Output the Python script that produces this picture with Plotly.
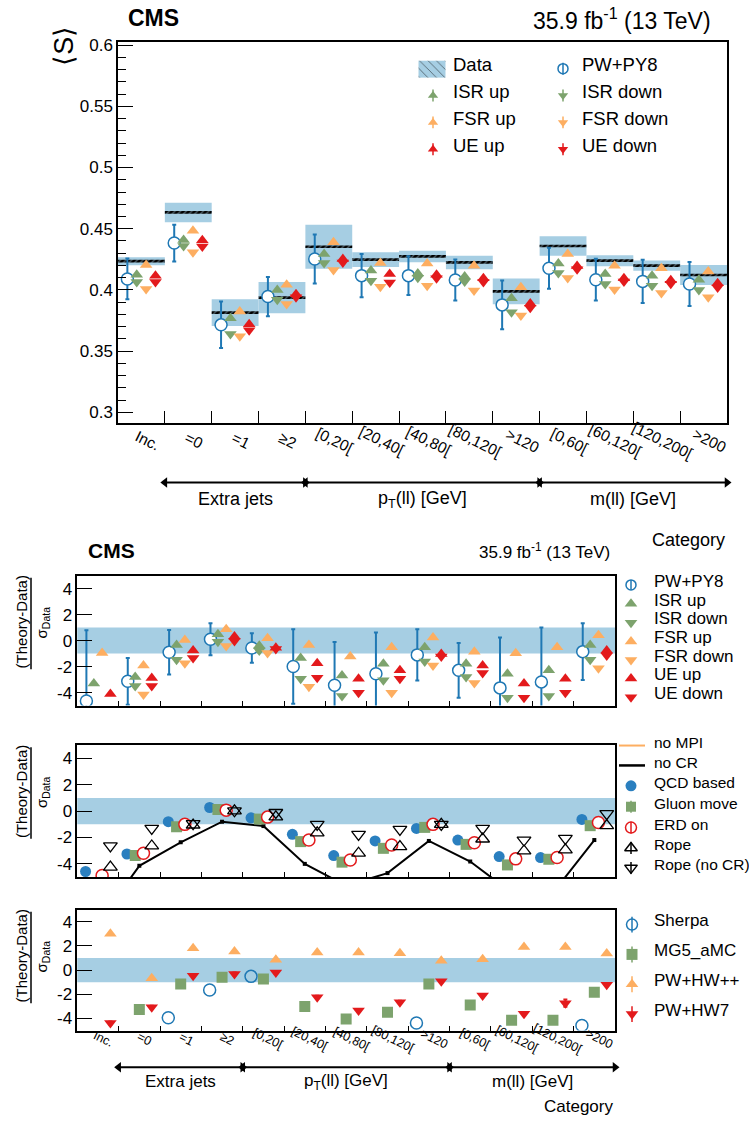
import plotly.graph_objects as go

W, H = 749, 1127

# ---------------- data ----------------
categories = ["Inc.", "=0", "=1", "≥2", "[0,20[", "[20,40[", "[40,80[", "[80,120[", ">120",
              "[0,60[", "[60,120[", "[120,200[", ">200"]
group_labels = ["Extra jets", "p<sub>T</sub>(ll) [GeV]", "m(ll) [GeV]"]
group_start = [1, 4, 9]
group_end = [4, 9, 13]

S_ticks = [0.3, 0.35, 0.4, 0.45, 0.5, 0.55, 0.6]
S_ticktext = ["0.3", "0.35", "0.4", "0.45", "0.5", "0.55", "0.6"]
dev_ticks = [-4, -2, 0, 2, 4]
dev_ticktext = ["-4", "-2", "0", "2", "4"]

# top panel: <S>
data_S = [0.4235, 0.4633, 0.3815, 0.3937, 0.4353, 0.4247, 0.4274, 0.4225, 0.3989, 0.4359, 0.4239, 0.4198, 0.4122]
data_S_err = [0.0033, 0.0079, 0.0110, 0.0127, 0.0180, 0.0060, 0.0047, 0.0055, 0.0105, 0.0079, 0.0045, 0.0042, 0.0082]
pwpy8_S = [0.4090, 0.4383, 0.3715, 0.3946, 0.4253, 0.4117, 0.4117, 0.4081, 0.3878, 0.4177, 0.4084, 0.4070, 0.4049]
pwpy8_S_err = [0.0167, 0.0150, 0.0190, 0.0160, 0.0200, 0.0177, 0.0158, 0.0167, 0.0200, 0.0167, 0.0170, 0.0177, 0.0180]
isr_up_S = [0.4125, 0.4408, 0.3769, 0.4000, 0.4293, 0.4158, 0.4135, 0.4110, 0.3932, 0.4217, 0.4130, 0.4117, 0.4084]
isr_down_S = [0.4065, 0.4358, 0.3641, 0.3920, 0.4220, 0.4076, 0.4100, 0.4070, 0.3818, 0.4139, 0.4049, 0.4035, 0.4000]
fsr_up_S = [0.4204, 0.4484, 0.3823, 0.4043, 0.4389, 0.4220, 0.4217, 0.4198, 0.4022, 0.4293, 0.4198, 0.4177, 0.4150]
fsr_down_S = [0.4008, 0.4307, 0.3622, 0.3886, 0.4163, 0.4027, 0.4035, 0.3995, 0.3791, 0.4098, 0.4003, 0.3976, 0.3940]
ue_up_S = [0.4115, 0.4405, 0.3720, 0.3965, 0.4252, 0.4130, 0.4125, 0.4095, 0.3890, 0.4195, 0.4095, 0.4080, 0.4055]
ue_down_S = [0.4065, 0.4355, 0.3670, 0.3940, 0.4225, 0.4060, 0.4095, 0.4065, 0.3855, 0.4170, 0.4070, 0.4050, 0.4020]

# panel 2: (Theory-Data)/sigma, PW+PY8 variations
pwpy8_dev = [-4.65, -3.13, -0.90, 0.10, -0.57, -1.99, -3.44, -2.55, -1.10, -2.29, -3.64, -3.18, -0.85]
pwpy8_dev_err = [5.45, 1.80, 1.71, 1.23, 1.14, 2.87, 3.34, 3.17, 1.98, 2.10, 3.88, 4.18, 2.18]
isr_up_dev = [-3.31, -2.80, -0.34, 0.48, -0.39, -1.33, -2.68, -1.79, -0.52, -1.79, -2.55, -2.29, -0.34]
isr_down_dev = [-5.70, -3.49, -1.48, -0.08, -0.77, -2.93, -4.27, -3.06, -1.61, -2.80, -4.40, -4.27, -1.48]
fsr_up_dev = [-0.95, -1.91, 0.05, 0.88, 0.19, -0.34, -1.23, -0.52, 0.24, -0.85, -0.97, -0.52, 0.42]
fsr_down_dev = [-7.20, -4.15, -1.74, -0.41, -0.95, -3.56, -5.60, -4.02, -1.91, -3.26, -5.50, -5.90, -2.12]
ue_up_dev = [-4.12, -2.88, -0.77, 0.32, -0.55, -1.74, -2.93, -2.29, -1.03, -1.91, -3.31, -2.93, -0.77]
ue_down_dev = [-5.60, -3.49, -1.33, -0.03, -0.65, -2.85, -4.02, -2.93, -1.23, -2.50, -4.40, -4.02, -1.15]

# panel 3: colour reconnection / MPI models
nompi_dev = [-9.5, -8.7, -7.9, -7.2, -7.8, -8.9, -9.6, -9.3, -8.4, -8.8, -9.7, -9.9, -8.2]
nocr_dev = [-8.50, -4.15, -2.36, -0.80, -1.13, -4.00, -5.66, -4.70, -2.26, -3.82, -6.19, -6.20, -2.19]
qcd_dev = [-4.58, -3.25, -0.80, 0.28, -0.50, -1.76, -3.37, -2.26, -1.31, -2.19, -3.45, -3.52, -0.63]
gluon_dev = [-5.60, -3.37, -1.18, 0.13, -0.60, -2.31, -3.87, -2.82, -1.23, -2.52, -4.08, -3.65, -1.10]
erd_dev = [-4.88, -3.19, -1.00, 0.08, -0.45, -2.19, -3.70, -2.57, -1.00, -2.39, -3.62, -3.52, -0.86]
rope_dev = [-4.25, -2.64, -1.05, 0.03, -0.43, -1.64, -3.19, -2.69, -1.00, -2.11, -3.02, -2.94, -1.10]
rope_nocr_dev = [-2.64, -1.31, -0.95, 0.03, -0.10, -1.00, -1.76, -1.38, -1.00, -1.31, -2.19, -2.06, -0.18]

# panel 4: other generators
sherpa_dev = [-7.5, -6.0, -3.95, -1.64, -0.52, -6.5, -7.0, -6.2, -4.38, -5.8, -6.8, -6.4, -4.58]
mg5_dev = [-5.9, -3.26, -1.15, -0.60, -0.74, -3.01, -4.05, -3.48, -1.15, -2.88, -4.16, -4.16, -1.84]
hwpp_dev = [3.01, -0.68, 1.81, 1.53, 0.85, 1.45, 1.45, 1.40, 0.77, 0.90, 1.92, 1.92, 1.37]
hw7_dev = [-4.38, -3.07, -0.47, -0.33, -0.19, -2.25, -3.34, -2.66, -0.93, -2.11, -3.62, -2.74, -1.21]
hw7_dev_err = [0.12, 0.12, 0.12, 0.12, 0.12, 0.12, 0.12, 0.12, 0.12, 0.12, 0.12, 0.30, 0.12]

# ---------------- style ----------------
FONT = "Liberation Sans, Arial, Helvetica, sans-serif"
BLUE = "#1f78b4"
QCDBLUE = "#2a7fbf"
GREEN = "#7da36d"
ORANGE = "#fdae61"
RED = "#e31a1c"
BAND = "#a6cee3"

n = len(categories)
centers = [i + 0.5 for i in range(n)]


def xs(off):
    return [c + off for c in centers]


fig = go.Figure()

# ---------- top panel ----------
fig.add_trace(go.Bar(x=centers, base=[v - e for v, e in zip(data_S, data_S_err)],
                     y=[2 * e for e in data_S_err], width=1.0,
                     marker=dict(color=BAND, line=dict(width=0)),
                     xaxis="x", yaxis="y", showlegend=False, hoverinfo="skip"))
LH = 0.0022
fig.add_trace(go.Bar(x=centers, base=[v - LH / 2 for v in data_S], y=[LH] * n, width=1.0,
                     marker=dict(color="black", line=dict(width=0),
                                 pattern=dict(shape="/", bgcolor="black", fgcolor=BAND, size=4, solidity=0.3)),
                     xaxis="x", yaxis="y", showlegend=False, hoverinfo="skip"))


def pts(x, y, ax, sym, color, size=11, fill=None, lw=1.5, err=None, errcolor=None):
    mk = dict(symbol=sym, size=size, color=fill if fill else color, line=dict(color=color, width=lw if fill else 0))
    tr = go.Scatter(x=x, y=y, mode="markers", marker=mk, xaxis="x" + ax if ax else "x",
                    yaxis="y" + ax if ax else "y", showlegend=False, hoverinfo="skip")
    if err is not None:
        tr.error_y = dict(type="data", array=err, color=errcolor or color, thickness=2, width=2)
    return tr


# top
fig.add_trace(pts(xs(-0.3), pwpy8_S, "", "circle", BLUE, size=12, fill="white", err=pwpy8_S_err))
fig.add_trace(pts(xs(-0.1), isr_up_S, "", "triangle-up", GREEN, size=11))
fig.add_trace(pts(xs(-0.1), isr_down_S, "", "triangle-down", GREEN, size=11))
fig.add_trace(pts(xs(0.1), fsr_up_S, "", "triangle-up", ORANGE, size=11))
fig.add_trace(pts(xs(0.1), fsr_down_S, "", "triangle-down", ORANGE, size=11))
fig.add_trace(pts(xs(0.3), ue_up_S, "", "triangle-up", RED, size=11))
fig.add_trace(pts(xs(0.3), ue_down_S, "", "triangle-down", RED, size=11))

# panel 2
fig.add_trace(pts(xs(-0.28), pwpy8_dev, "2", "circle", BLUE, size=12, fill="white", err=pwpy8_dev_err))
fig.add_trace(pts(xs(-0.1), isr_up_dev, "2", "triangle-up", GREEN, size=11))
fig.add_trace(pts(xs(-0.1), isr_down_dev, "2", "triangle-down", GREEN, size=11))
fig.add_trace(pts(xs(0.1), fsr_up_dev, "2", "triangle-up", ORANGE, size=11))
fig.add_trace(pts(xs(0.1), fsr_down_dev, "2", "triangle-down", ORANGE, size=11))
fig.add_trace(pts(xs(0.3), ue_up_dev, "2", "triangle-up", RED, size=11))
fig.add_trace(pts(xs(0.3), ue_down_dev, "2", "triangle-down", RED, size=11))

# panel 3
fig.add_trace(go.Scatter(x=centers, y=nompi_dev, mode="lines", line=dict(color=ORANGE, width=2),
                         xaxis="x3", yaxis="y3", showlegend=False, hoverinfo="skip"))
fig.add_trace(go.Scatter(x=centers, y=nocr_dev, mode="lines+markers", line=dict(color="black", width=2),
                         marker=dict(symbol="square", size=4, color="black"),
                         xaxis="x3", yaxis="y3", showlegend=False, hoverinfo="skip"))
fig.add_trace(pts(xs(-0.3), qcd_dev, "3", "circle", QCDBLUE, size=11))
fig.add_trace(pts(xs(-0.1), gluon_dev, "3", "square", GREEN, size=11))
fig.add_trace(pts(xs(0.1), erd_dev, "3", "circle", RED, size=12, fill="white"))
fig.add_trace(pts(xs(0.3), rope_dev, "3", "triangle-up-open", "black", size=12))
fig.add_trace(pts(xs(0.3), rope_nocr_dev, "3", "triangle-down-open", "black", size=12))
for tr in fig.data[-2:]:
    tr.marker.line = dict(color="black", width=1.3)

# panel 4
fig.add_trace(pts(xs(-0.3), sherpa_dev, "4", "circle-open", BLUE, size=12))
fig.data[-1].marker.line = dict(color=BLUE, width=1.5)
fig.add_trace(pts(xs(0.0), mg5_dev, "4", "square", GREEN, size=11))
fig.add_trace(pts(xs(0.3), hwpp_dev, "4", "triangle-up", ORANGE, size=11))
fig.add_trace(pts(xs(0.3), hw7_dev, "4", "triangle-down", RED, size=11, err=hw7_dev_err))


# ---------------- legends (drawn on a pixel overlay axis) ----------------
def leg_sym(x, y, sym, color, size=10, fill=None, err=0, lw=1.5):
    mk = dict(symbol=sym, size=size, color=fill if fill else color,
              line=dict(color=color, width=lw if (fill or sym.endswith("open")) else 0))
    tr = go.Scatter(x=[x], y=[y], mode="markers", marker=mk, xaxis="x5", yaxis="y5",
                    showlegend=False, hoverinfo="skip", cliponaxis=False)
    if err:
        tr.error_y = dict(type="constant", value=err, color=color, thickness=1.5, width=0)
    return tr


annots = []


def text(x, y, s, size=17, xanchor="left", yanchor="middle", xref="x5", yref="y5", angle=0, **kw):
    if angle == 0:
        y = y - 0.22 * size  # put the visual centre of the glyphs on y
    annots.append(dict(x=x, y=y, text=s, xref=xref, yref=yref, showarrow=False, xanchor=xanchor,
                       yanchor=yanchor, textangle=angle, font=dict(size=size, family=FONT, color="black"), **kw))


# top legend
fig.add_trace(go.Bar(x=[432], base=[55], y=[17], width=[27], xaxis="x5", yaxis="y5",
                     marker=dict(color=BAND, line=dict(width=0),
                                 pattern=dict(shape="\\", bgcolor=BAND, fgcolor="black", size=6, solidity=0.15)),
                     showlegend=False, hoverinfo="skip"))
top_rows = [63, 90, 117, 144]
left_items = [("Data", None, None), ("ISR up", "triangle-up", GREEN), ("FSR up", "triangle-up", ORANGE),
              ("UE up", "triangle-up", RED)]
right_items = [("PW+PY8", "circle-open", BLUE), ("ISR down", "triangle-down", GREEN),
               ("FSR down", "triangle-down", ORANGE), ("UE down", "triangle-down", RED)]
for yy, (lab, sym, col) in zip(top_rows, left_items):
    if sym:
        fig.add_trace(leg_sym(433, yy, sym, col, size=9, err=6))
    text(451, yy, lab, size=18.5)
for yy, (lab, sym, col) in zip(top_rows, right_items):
    fig.add_trace(leg_sym(563, yy, sym, col, size=10 if "circle" in sym else 9, err=6))
    text(580, yy, lab, size=18.5)

# panel 2 legend
p2_rows = [582, 601, 620, 639, 657.5, 676, 695]
p2_items = [("PW+PY8", "circle-open", BLUE), ("ISR up", "triangle-up", GREEN), ("ISR down", "triangle-down", GREEN),
            ("FSR up", "triangle-up", ORANGE), ("FSR down", "triangle-down", ORANGE),
            ("UE up", "triangle-up", RED), ("UE down", "triangle-down", RED)]
for yy, (lab, sym, col) in zip(p2_rows, p2_items):
    fig.add_trace(leg_sym(631, yy, sym, col, size=10 if "circle" in sym else 11, err=5 if "circle" in sym else 0))
    text(652, yy, lab, size=17)

# panel 3 legend
p3_rows = [743.5, 763.5, 784, 805, 826, 846.5, 866.5]
fig.add_trace(go.Scatter(x=[619, 645], y=[p3_rows[0]] * 2, mode="lines", line=dict(color=ORANGE, width=2),
                         xaxis="x5", yaxis="y5", showlegend=False, hoverinfo="skip", cliponaxis=False))
fig.add_trace(go.Scatter(x=[619, 645], y=[p3_rows[1]] * 2, mode="lines", line=dict(color="black", width=2.5),
                         xaxis="x5", yaxis="y5", showlegend=False, hoverinfo="skip", cliponaxis=False))
fig.add_trace(leg_sym(631, p3_rows[2], "circle", QCDBLUE, size=11))
fig.add_trace(leg_sym(631, p3_rows[3], "square", GREEN, size=10, err=6))
fig.add_trace(leg_sym(631, p3_rows[4], "circle-open", RED, size=11, err=6))
fig.add_trace(leg_sym(631, p3_rows[5], "triangle-up-open", "black", size=11, err=6))
fig.add_trace(leg_sym(631, p3_rows[6], "triangle-down-open", "black", size=11, err=6))
for yy, lab in zip(p3_rows, ["no MPI", "no CR", "QCD based", "Gluon move", "ERD on", "Rope", "Rope (no CR)"]):
    text(652, yy, lab, size=15.5)

# panel 4 legend
p4_rows = [923.5, 953.5, 983.5, 1013.5]
p4_items = [("Sherpa", "circle-open", BLUE), ("MG5_aMC", "square", GREEN), ("PW+HW++", "triangle-up", ORANGE),
            ("PW+HW7", "triangle-down", RED)]
for yy, (lab, sym, col) in zip(p4_rows, p4_items):
    fig.add_trace(leg_sym(632, yy, sym, col, size=11, err=8))
    text(652, yy, lab, size=17)

# ---------------- texts ----------------
text(126, 17, "<b>CMS</b>", size=23)
text(713, 18, "35.9 fb<sup>-1</sup> (13 TeV)", size=23, xanchor="right")
text(86, 552, "<b>CMS</b>", size=21)
text(612, 552, "35.9 fb<sup>-1</sup> (13 TeV)", size=17, xanchor="right")

text(64, 40, "⟨S⟩", size=27, xanchor="center", angle=-90)

panel_tops = [572.7, 743.3, 908.5]
shapes = []
for pt in panel_tops:
    text(21, pt + 47, "(Theory-Data)", size=15, xanchor="center", angle=-90)
    text(42, pt + 47, "σ<sub>Data</sub>", size=15, xanchor="center", angle=-90)
    shapes.append(dict(type="line", xref="x5", yref="y5", x0=31, x1=31, y0=pt + 2, y1=pt + 94,
                       line=dict(color="black", width=1.5)))

# category labels
for i, lab in enumerate(categories):
    text(i + 0.5, 437, lab, size=15.5, xanchor="center", xref="x", angle=26, xshift=6)
    text(i + 0.5, 1039, lab, size=12.5, xanchor="center", xref="x4", angle=26, xshift=5)

# group arrows & names
for xr, yA, yT, fs in (("x", 479, 500, 18), ("x4", 1067, 1085, 17)):
    for lab, s, e in zip(group_labels, group_start, group_end):
        fig.add_trace(go.Scatter(x=[s, e], y=[yA, yA], mode="lines+markers", xaxis=xr, yaxis="y5",
                                 line=dict(color="black", width=2),
                                 marker=dict(symbol=["triangle-left", "triangle-right"], size=9, color="black"),
                                 showlegend=False, hoverinfo="skip", cliponaxis=False))
        text((s + e) / 2, yT, lab, size=fs, xanchor="center", xref=xr)

text(727, 541, "Category", size=18, xanchor="right")
text(615, 1110, "Category", size=17, xanchor="right")

# bands +-1 in the ratio panels
for ax in ("2", "3", "4"):
    shapes.append(dict(type="rect", xref=f"x{ax} domain", yref=f"y{ax}", x0=0, x1=1, y0=-1, y1=1,
                       fillcolor=BAND, line=dict(width=0), layer="below"))


# ---------------- axes ----------------
def frame_axis(**kw):
    d = dict(showline=True, linecolor="black", linewidth=1.5, mirror=True, showgrid=False, zeroline=False,
             ticks="inside", tickcolor="black", tickwidth=1.3, tickfont=dict(size=17, family=FONT, color="black"))
    d.update(kw)
    return d


def ypx(p):
    return 1 - p / H


bounds = list(range(n + 1))
layout_axes = dict(
    xaxis=frame_axis(domain=[118 / W, 727 / W], range=[0, n], tickvals=bounds, ticklen=12,
                     showticklabels=False, anchor="y"),
    yaxis=frame_axis(domain=[ypx(419), ypx(36)], range=[0.2915, 0.6027], tickvals=S_ticks, ticktext=S_ticktext,
                     ticklen=15, anchor="x",
                     minor=dict(dtick=0.01, tick0=0.3, ticklen=8, ticks="inside", tickcolor="black",
                                tickwidth=1.2, showgrid=False)),
)
for ax, (top, bot) in zip(("2", "3", "4"), ((572.7, 703.3), (743.3, 875.7), (908.5, 1030))):
    layout_axes[f"xaxis{ax}"] = frame_axis(domain=[77.3 / W, 615 / W], range=[0, n], tickvals=bounds, ticklen=5,
                                           showticklabels=False, anchor=f"y{ax}")
    layout_axes[f"yaxis{ax}"] = frame_axis(domain=[ypx(bot), ypx(top)], range=[-5, 5], tickvals=dev_ticks,
                                           ticktext=dev_ticktext, ticklen=15, anchor=f"x{ax}")
layout_axes["xaxis5"] = dict(domain=[0, 1], range=[0, W], visible=False, anchor="y5", fixedrange=True)
layout_axes["yaxis5"] = dict(domain=[0, 1], range=[H, 0], visible=False, anchor="x5", fixedrange=True)

fig.update_layout(
    width=W, height=H, margin=dict(l=0, r=0, t=0, b=0),
    paper_bgcolor="white", plot_bgcolor="rgba(0,0,0,0)",
    barmode="overlay", showlegend=False,
    font=dict(family=FONT, color="black"),
    annotations=annots, shapes=shapes,
    **layout_axes,
)

fig.write_html("out.html", config={"displayModeBar": False},
               post_script="document.body.style.margin='0px';document.body.style.padding='0px';")
